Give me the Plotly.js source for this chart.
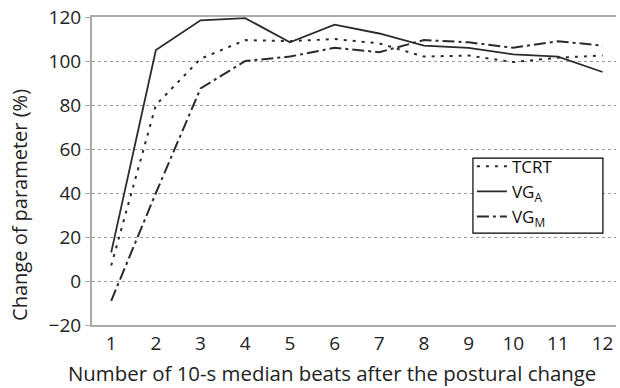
<!DOCTYPE html>
<html>
<head>
<meta charset="utf-8">
<script src="https://cdn.plot.ly/plotly-3.0.1.min.js"></script>
<style>html,body{margin:0;padding:0;background:#fff;}#chart{width:620px;height:388px;}</style>
</head>
<body>
<div id="chart"></div>
<script>
const beats = [1,2,3,4,5,6,7,8,9,10,11,12];
const tcrt = [7, 80, 101, 109.5, 109, 110, 108, 102, 102.5, 99.5, 101.5, 102.5];
const vgA  = [13, 105, 118.5, 119.5, 108.5, 116.5, 112.5, 107, 106, 103, 102, 95];
const vgM  = [-9, 40, 87.5, 100, 102, 106, 104, 109.5, 108.5, 106, 109, 107];
const seriesNames = ['TCRT', 'VG<sub>A</sub>', 'VG<sub>M</sub>'];
const yTicks = [-20, 0, 20, 40, 60, 80, 100, 120];
const yTickText = ['\u221220', '0', '20', '40', '60', '80', '100', '120'];
const xTitle = 'Number of 10-s median beats after the postural change';
const yTitle = 'Change of parameter (%)';

const lineColor = '#2b2b2b';
const traces = [
  {x: beats, y: tcrt, name: seriesNames[0], mode: 'lines', line: {color: lineColor, width: 2, dash: '3px,6px'}},
  {x: beats, y: vgA, name: seriesNames[1], mode: 'lines', line: {color: lineColor, width: 1.8, dash: 'solid'}},
  {x: beats, y: vgM, name: seriesNames[2], mode: 'lines', line: {color: lineColor, width: 2, dash: '12px,4px,3px,4px'}}
];

const fam = 'Open Sans, Noto Sans, sans-serif';
const layout = {
  width: 620, height: 388,
  margin: {l: 92, r: 4, t: 17, b: 63},
  paper_bgcolor: '#fff', plot_bgcolor: '#fff',
  font: {family: fam, size: 19, color: '#222'},
  showlegend: true,
  legend: {x: 0.725, y: 0.572, xanchor: 'left', yanchor: 'top', bgcolor: 'rgba(0,0,0,0)', borderwidth: 0,
           font: {family: fam, size: 17, color: '#111'}, tracegroupgap: 0, itemwidth: 30},
  shapes: [
    {type: 'rect', xref: 'paper', yref: 'paper', x0: 0.727, x1: 0.975, y0: 0.298, y1: 0.542,
     line: {color: '#000', width: 1.2}, fillcolor: '#fff', layer: 'above'}
  ],
  annotations: [
    {text: xTitle, xref: 'paper', yref: 'paper', x: 0.458, y: -0.157, xanchor: 'center', yanchor: 'middle',
     showarrow: false, font: {size: 20.4, family: fam, color: '#222'}},
    {text: yTitle, xref: 'paper', yref: 'paper', x: -0.1374, y: 0.39, xanchor: 'center', yanchor: 'middle',
     textangle: -90, showarrow: false, font: {size: 20, family: fam, color: '#222'}}
  ],
  xaxis: {
    range: [0.57, 12.3], tickvals: beats, ticktext: beats.map(String),
    showgrid: false, zeroline: false,
    showline: true, linecolor: '#aaa', linewidth: 2, mirror: true,
    ticks: '', tickfont: {size: 19, family: fam, color: '#222'}
  },
  yaxis: {
    range: [-20, 120], tickvals: yTicks, ticktext: yTickText,
    showgrid: true, gridcolor: '#999', gridwidth: 1, griddash: 'dot',
    zeroline: false,
    showline: true, linecolor: '#aaa', linewidth: 2,
    ticks: 'outside', ticklen: 5, tickcolor: '#aaa', tickwidth: 1,
    tickfont: {size: 19, family: fam, color: '#222'}
  }
};
Plotly.newPlot('chart', traces, layout, {displayModeBar: false, staticPlot: true});
</script>
</body>
</html>
